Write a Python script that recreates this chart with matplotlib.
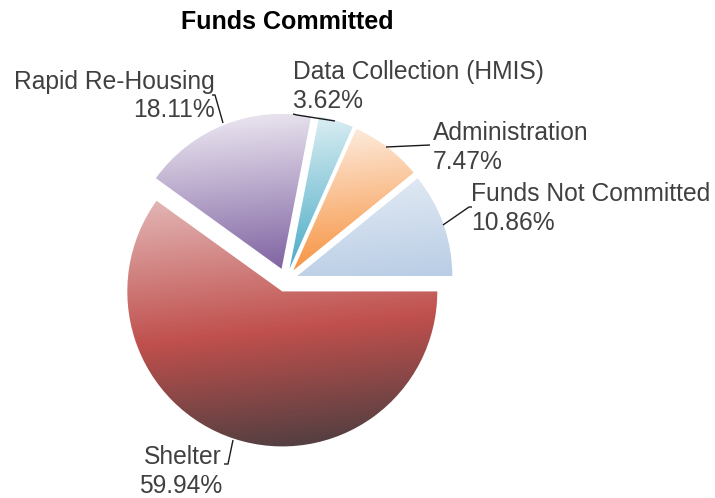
import numpy as np
import matplotlib
matplotlib.use('Agg')
import matplotlib.pyplot as plt
from matplotlib.patches import Wedge
from matplotlib.colors import LinearSegmentedColormap

# ---------------- data ----------------
title = 'Funds Committed'
categories = ['Funds Not Committed', 'Administration', 'Data Collection (HMIS)',
              'Rapid Re-Housing', 'Shelter']
values = [10.86, 7.47, 3.62, 18.11, 59.94]
pct_labels = ['10.86%', '7.47%', '3.62%', '18.11%', '59.94%']

# gradient stops (top/light -> bottom/dark)
gradients = [
    [(0.0, '#dfe8f3'), (1.0, '#b9cde5')],
    [(0.0, '#fdeadb'), (1.0, '#f79646')],
    [(0.0, '#dbeef3'), (1.0, '#4bacc6')],
    [(0.0, '#e8e2ee'), (1.0, '#8064a2')],
    [(0.0, '#e2b5b4'), (0.55, '#c0504d'), (1.0, '#553f41')],
]

# ---------------- layout (pixel units) ----------------
W, H = 715, 498
plt.rcParams['font.family'] = ['Liberation Sans', 'DejaVu Sans']
fig = plt.figure(figsize=(W / 100, H / 100), dpi=100)
ax = fig.add_axes([0, 0, 1, 1])


def Y(py):
    return H - py


cx, cy = 286, Y(280)
R = 155
explode = 12
grad_dir = np.deg2rad(-84)
gx, gy = np.cos(grad_dir), np.sin(grad_dir)

total = sum(values)
start = 0.0
for v, stops in zip(values, gradients):
    span = v / total * 360.0
    t1, t2 = start, start + span
    mid = np.deg2rad((t1 + t2) / 2)
    ox, oy = cx + explode * np.cos(mid), cy + explode * np.sin(mid)
    wedge = Wedge((ox, oy), R, t1, t2, facecolor='none', edgecolor='none')
    ax.add_patch(wedge)
    th = np.deg2rad(np.linspace(t1, t2, 200))
    px = np.concatenate([[ox], ox + R * np.cos(th)])
    py = np.concatenate([[oy], oy + R * np.sin(th)])
    xmin, xmax, ymin, ymax = px.min() - 2, px.max() + 2, py.min() - 2, py.max() + 2
    nx, ny = int(xmax - xmin) + 2, int(ymax - ymin) + 2
    xs = np.linspace(xmin, xmax, nx)
    ys = np.linspace(ymin, ymax, ny)
    X, Yg = np.meshgrid(xs, ys)
    proj = X * gx + Yg * gy
    pp = px * gx + py * gy
    t = np.clip((proj - pp.min()) / (pp.max() - pp.min()), 0, 1)
    cmap = LinearSegmentedColormap.from_list('g', stops)
    img = cmap(t)
    im = ax.imshow(img, extent=(xmin, xmax, ymin, ymax), origin='lower',
                   aspect='auto', interpolation='bilinear')
    im.set_clip_path(wedge)
    start = t2

# ---------------- labels ----------------
txt_color = '#404040'
fs = 17.7
# (x, baseline line1, baseline line2, ha)
label_pos = [
    (471, 201, 230, 'left'),
    (433, 140, 169, 'left'),
    (293, 79, 108, 'left'),
    (215, 89, 117, 'right'),
    (222, 464, 493, 'right'),
]
for name, pct, (lx, b1, b2, ha) in zip(categories, pct_labels, label_pos):
    ax.text(lx, Y(b1), name, ha=ha, va='baseline', fontsize=fs, color=txt_color)
    ax.text(lx, Y(b2), pct, ha=ha, va='baseline', fontsize=fs, color=txt_color)

leaders = [
    [(443, 225), (469, 207), (472, 207)],
    [(386, 147), (430, 145)],
    [(293, 114), (297, 115), (335, 121)],
    [(212, 95), (215, 95), (223, 123)],
    [(233, 440), (228, 464), (224, 464)],
]
for pts in leaders:
    xs_ = [p[0] for p in pts]
    ys_ = [Y(p[1]) for p in pts]
    ax.plot(xs_, ys_, color='#1a1a1a', lw=1.0, solid_capstyle='butt')

ax.text(287, Y(29), title, ha='center', va='baseline', fontsize=18,
        fontweight='bold', color='black')

ax.set_xlim(0, W)
ax.set_ylim(0, H)
ax.axis('off')
fig.savefig('out.png', dpi=100)
